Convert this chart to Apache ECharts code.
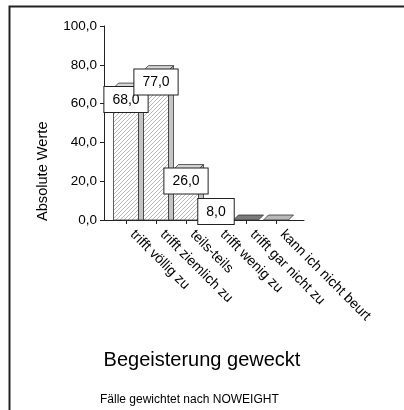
<!DOCTYPE html>
<html>
<head>
<meta charset="utf-8">
<script src="https://cdn.jsdelivr.net/npm/echarts@6/dist/echarts.min.js"></script>
<style>
  html, body { margin: 0; padding: 0; background: #fff; }
  #chart { width: 404px; height: 410px; }
</style>
</head>
<body>
<div id="chart"></div>
<script>
// data
const categories = ['trifft völlig zu', 'trifft ziemlich zu', 'teils-teils', 'trifft wenig zu', 'trifft gar nicht zu', 'kann ich nicht beurt'];
const counts = [68, 77, 26, 8, 0, 0];
const yTicks = [0, 20, 40, 60, 80, 100];

const FONT = '"Liberation Sans", Arial, sans-serif';
const fmt = v => v.toFixed(1).replace('.', ',');

// hatch pattern for the bar faces
function makeHatch() {
  const c = document.createElement('canvas');
  c.width = 4; c.height = 4;
  const ctx = c.getContext('2d');
  ctx.fillStyle = '#ffffff';
  ctx.fillRect(0, 0, 4, 4);
  ctx.strokeStyle = '#a8a8a8';
  ctx.lineWidth = 0.8;
  ctx.beginPath();
  ctx.moveTo(0, 4); ctx.lineTo(4, 0);
  ctx.moveTo(-1, 1); ctx.lineTo(1, -1);
  ctx.moveTo(3, 5); ctx.lineTo(5, 3);
  ctx.stroke();
  return c;
}
const hatch = makeHatch();

const chart = echarts.init(document.getElementById('chart'), null, { renderer: 'canvas' });

const DEPTH = 5;
const FRONT = 25;

function renderBar(params, api) {
  const idx = api.value(0);
  const val = api.value(1);
  const top = api.coord([idx, val]);
  const base = api.coord([idx, 0]);
  const x0 = top[0] - FRONT / 2;
  const x1 = x0 + FRONT;
  const yT = top[1];
  const yB = base[1];
  const children = [];
  if (yB - yT > 0.5) {
    children.push({
      type: 'rect',
      shape: { x: x0, y: yT, width: FRONT, height: yB - yT },
      style: { fill: { image: hatch, repeat: 'repeat' }, stroke: '#333', lineWidth: 0.8 }
    });
    children.push({
      type: 'polygon',
      shape: { points: [[x1, yT], [x1 + DEPTH, yT - DEPTH], [x1 + DEPTH, yB], [x1, yB]] },
      style: { fill: '#c4c4c4', stroke: '#333', lineWidth: 0.8 }
    });
  }
  children.push({
    type: 'polygon',
    shape: { points: [[x0, yT], [x0 + DEPTH, yT - DEPTH], [x1 + DEPTH, yT - DEPTH], [x1, yT]] },
    style: { fill: val > 0 ? '#d6d6d6' : (idx === 4 ? '#7a7a7a' : '#b8b8b8'), stroke: '#333', lineWidth: 0.8 }
  });
  if (val > 0) {
    const boxH = 25;
    const boxTop = Math.min(yT - 1, yB + 4 - boxH);
    children.push({
      type: 'text',
      z2: 100,
      style: {
        text: fmt(val),
        x: top[0],
        y: boxTop,
        align: 'center',
        verticalAlign: 'top',
        font: '14px ' + FONT,
        fill: '#000',
        lineHeight: 16,
        padding: [5, 8, 4, 8],
        backgroundColor: '#fff',
        borderColor: '#222',
        borderWidth: 1
      }
    });
  }
  return { type: 'group', children };
}

const option = {
  animation: false,
  backgroundColor: '#fff',
  textStyle: { fontFamily: FONT, color: '#000' },
  title: [
    {
      text: 'Begeisterung geweckt',
      left: 'center',
      top: 345,
      textStyle: { fontSize: 20, fontWeight: 'normal', color: '#000', fontFamily: FONT }
    },
    {
      text: 'Fälle gewichtet nach NOWEIGHT',
      left: 95,
      top: 389,
      textStyle: { fontSize: 12, fontWeight: 'normal', color: '#000', fontFamily: FONT }
    }
  ],
  grid: [
    { left: 104, top: 26, width: 200, height: 194 },
    { left: 111, top: 26, width: 180, height: 194 }
  ],
  xAxis: [
    {
      gridIndex: 0, type: 'value', min: 0, max: 1,
      axisLine: { show: true, lineStyle: { color: '#222', width: 1 } },
      axisTick: { show: false }, axisLabel: { show: false }, splitLine: { show: false }
    },
    {
      gridIndex: 1, type: 'category', data: categories,
      axisLine: { show: false },
      axisTick: { show: true, alignWithLabel: true, length: 4, lineStyle: { color: '#222' } },
      axisLabel: { rotate: -45, margin: 6, padding: [0, 0, 0, 9], fontSize: 14, color: '#000', fontFamily: FONT, interval: 0 }
    }
  ],
  yAxis: [
    {
      gridIndex: 0, type: 'value', min: yTicks[0], max: yTicks[yTicks.length - 1], interval: yTicks[1] - yTicks[0],
      axisLine: { show: true, lineStyle: { color: '#222', width: 1 } },
      axisTick: { show: true, length: 4, lineStyle: { color: '#222' } },
      axisLabel: { formatter: fmt, fontSize: 13.5, color: '#000', margin: 7, fontFamily: FONT },
      splitLine: { show: false }
    },
    {
      gridIndex: 1, type: 'value', min: yTicks[0], max: yTicks[yTicks.length - 1], show: false
    }
  ],
  graphic: [
    {
      type: 'polyline',
      shape: { points: [[9.5, 410], [9.5, 6.5], [404, 6.5]] },
      style: { stroke: '#222', lineWidth: 2, fill: null }
    },
    {
      type: 'text',
      x: 43, y: 221,
      rotation: Math.PI / 2,
      style: {
        text: 'Absolute Werte',
        font: '14.6px ' + FONT,
        fill: '#000',
        align: 'left',
        verticalAlign: 'middle'
      }
    }
  ],
  series: [
    {
      type: 'custom',
      xAxisIndex: 1,
      yAxisIndex: 1,
      clip: false,
      renderItem: renderBar,
      encode: { x: 0, y: 1 },
      data: counts.map((v, i) => [i, v])
    }
  ]
};

chart.setOption(option);
</script>
</body>
</html>
